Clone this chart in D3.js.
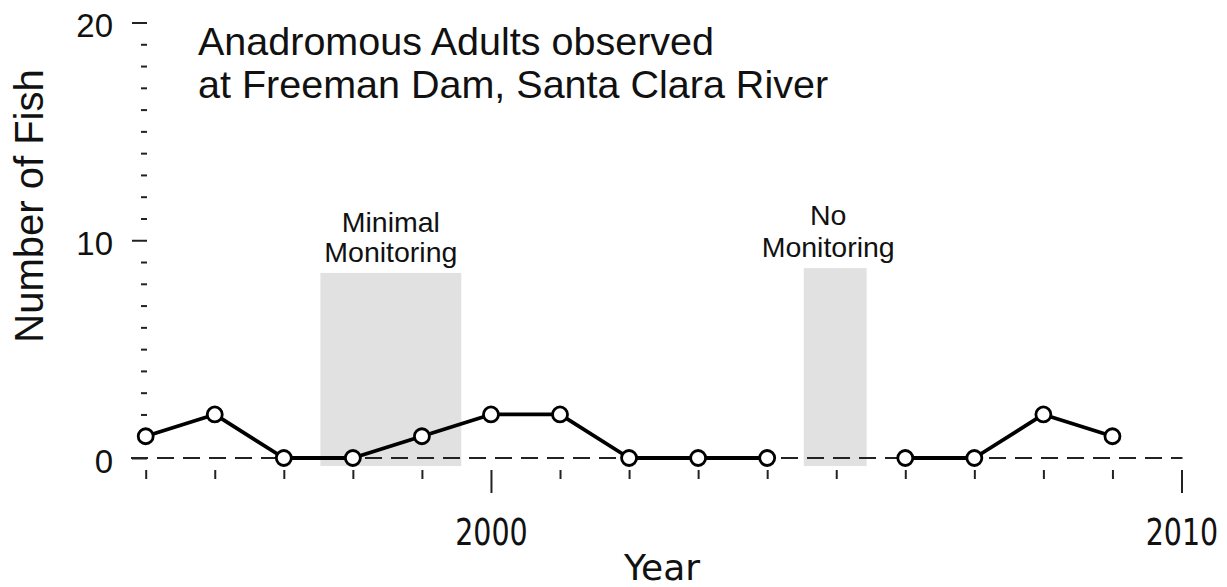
<!DOCTYPE html>
<html><head><meta charset="utf-8">
<script src="https://cdn.jsdelivr.net/npm/d3@7"></script>
<style>
html,body{margin:0;padding:0;background:#fff;}
svg{display:block;}
</style></head>
<body>
<script>
// ---- data ----
const years  = [1995,1996,1997,1998,1999,2000,2001,2002,2003,2004,2005,2006,2007,2008,2009];
const fish   = [1,   2,   0,   0,   1,   2,   2,   0,   0,   0,   null,0,   0,   2,   1];
const xMajorTicks = [2000, 2010];
const xMinorTicks = [1995,1996,1997,1998,1999,2001,2002,2003,2004,2005,2006,2007,2008,2009];
const yMajorTicks = [0, 10, 20];
const yMinorTicks = [1,2,3,4,5,6,7,8,9,11,12,13,14,15,16,17,18,19];
const periodLabels = [["Minimal","Monitoring"],["No","Monitoring"]];
const periodStart  = [1997.53, 2004.53];
const periodEnd    = [1999.57, 2005.44];
const periodTop    = [8.5, 8.72];
const periodBottom = -0.37;
const titleLines = ["Anadromous Adults observed","at Freeman Dam, Santa Clara River"];

// ---- layout ----
const W = 1227, H = 587;
const svg = d3.select("body").append("svg").attr("width", W).attr("height", H);

const x = d3.scaleLinear().domain([1995, 2010]).range([145.7, 1181.5]);
const y = d3.scaleLinear().domain([0, 20]).range([458, 22.5]);

// shaded periods
const periods = periodStart.map((s,i)=>({s, e:periodEnd[i], top:periodTop[i], lab:periodLabels[i]}));
svg.append("g").selectAll("rect").data(periods).join("rect")
  .attr("x", d=>x(d.s)).attr("width", d=>x(d.e)-x(d.s))
  .attr("y", d=>y(d.top)).attr("height", d=>y(periodBottom)-y(d.top))
  .attr("fill", "#e1e1e1");

// period labels
const labOffsets = [0, -7];
const labBase = [[232, 262],[225, 257]];
periods.forEach((d,i)=>{
  const cx = (x(d.s)+x(d.e))/2 + labOffsets[i];
  const t = svg.append("text").attr("text-anchor","middle")
    .attr("font-family","'Liberation Sans', Arial, sans-serif").attr("font-size",28.5).attr("fill","#111");
  t.append("tspan").attr("x",cx).attr("y", labBase[i][0]).text(d.lab[0]);
  t.append("tspan").attr("x",cx).attr("y", labBase[i][1]).text(d.lab[1]);
});

// zero reference dashed line
svg.append("line")
  .attr("x1", 131).attr("x2", x(2010)+1)
  .attr("y1", y(0)).attr("y2", y(0))
  .attr("stroke","#222").attr("stroke-width",2).attr("stroke-dasharray","17 9");

// y axis
const yMajor = svg.append("g").attr("transform","translate(147,0)")
  .call(d3.axisLeft(y).tickValues(yMajorTicks).tickSize(15).tickPadding(19).tickFormat(d3.format("d")));
const yMinor = svg.append("g").attr("transform","translate(147,0)")
  .call(d3.axisLeft(y).tickValues(yMinorTicks).tickSize(6).tickFormat(""));
[yMajor,yMinor].forEach(g=>{
  g.select(".domain").remove();
  g.selectAll(".tick line").attr("stroke","#222").attr("stroke-width",2);
});
yMajor.selectAll(".tick text")
  .attr("font-family","'Liberation Sans', Arial, sans-serif").attr("font-size",33)
  .attr("fill","#111").attr("dy","14px");

// x axis
const xMajor = svg.append("g").attr("transform","translate(0,470)")
  .call(d3.axisBottom(x).tickValues(xMajorTicks).tickSize(23).tickPadding(52).tickFormat(d3.format("d")));
const xMinor = svg.append("g").attr("transform","translate(0,470)")
  .call(d3.axisBottom(x).tickValues(xMinorTicks).tickSize(9).tickFormat(""));
[xMajor,xMinor].forEach(g=>{
  g.select(".domain").remove();
  g.selectAll(".tick line").attr("stroke","#222").attr("stroke-width",2);
});
xMajor.selectAll(".tick text")
  .attr("font-family","'DejaVu Sans', Verdana, sans-serif").attr("font-size",37)
  .attr("fill","#111").attr("dy","0").attr("y", 75)
  .attr("transform","scale(0.77,1)");

// data line
const pts = years.map((yr,i)=>({yr, v:fish[i]}));
svg.append("path").datum(pts)
  .attr("d", d3.line().defined(d=>d.v!==null).x(d=>x(d.yr)).y(d=>y(d.v)))
  .attr("fill","none").attr("stroke","#000").attr("stroke-width",3.8).attr("stroke-linejoin","round");
svg.append("g").selectAll("circle").data(pts.filter(d=>d.v!==null)).join("circle")
  .attr("cx", d=>x(d.yr)).attr("cy", d=>y(d.v)).attr("r",7.5)
  .attr("fill","#fff").attr("stroke","#000").attr("stroke-width",2.8);

// title
const title = svg.append("text").attr("font-family","'Liberation Sans', Arial, sans-serif")
  .attr("font-size",39.5).attr("fill","#111");
titleLines.forEach((l,i)=>title.append("tspan").attr("x",198).attr("y",55+43*i).text(l));

// axis titles
svg.append("text").attr("transform","translate(43,206) rotate(-90)")
  .attr("text-anchor","middle").attr("font-family","'Liberation Sans', Arial, sans-serif")
  .attr("font-size",40).attr("fill","#111").text("Number of Fish");
svg.append("text").attr("x",662).attr("y",580).attr("text-anchor","middle")
  .attr("font-family","'DejaVu Sans', Verdana, sans-serif").attr("font-size",36)
  .attr("fill","#111").text("Year");
</script>
</body></html>
